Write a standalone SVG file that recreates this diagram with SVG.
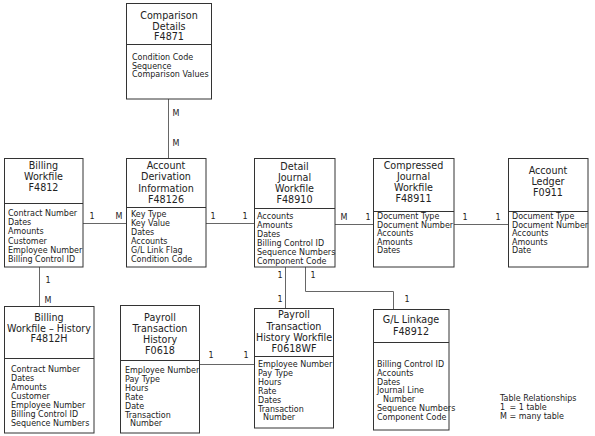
<svg xmlns="http://www.w3.org/2000/svg" width="595" height="436" viewBox="0 0 595 436">
<style>
.box{fill:#fff;stroke:#333;stroke-width:1}
.sep{stroke:#333;stroke-width:1}
.t{font-family:"DejaVu Sans",sans-serif;font-size:9.6px;text-anchor:middle;fill:#222}
.f{font-family:"DejaVu Sans",sans-serif;font-size:8px;fill:#222}
.conn{stroke:#666;stroke-width:1;fill:none}
.lbl{font-family:"DejaVu Sans",sans-serif;font-size:8px;text-anchor:middle;fill:#222}
</style>
<rect width="595" height="436" fill="#fff"/>

<g id="connectors">
<path class="conn" d="M168.5 99V158"/>
<path class="conn" d="M83 223.5H126"/>
<path class="conn" d="M206 223.5H254"/>
<path class="conn" d="M335 224.5H373"/>
<path class="conn" d="M454 224.5H508"/>
<path class="conn" d="M39.5 267V306"/>
<path class="conn" d="M285.5 267V308"/>
<path class="conn" d="M305.5 267V291.5H393.5V309"/>
<path class="conn" d="M199.5 364.5H254"/>
<text class="lbl" x="176" y="116">M</text>
<text class="lbl" x="176" y="146">M</text>
<text class="lbl" x="92" y="219">1</text>
<text class="lbl" x="119" y="219">M</text>
<text class="lbl" x="213" y="219">1</text>
<text class="lbl" x="245" y="219">1</text>
<text class="lbl" x="344" y="220">M</text>
<text class="lbl" x="368" y="220">1</text>
<text class="lbl" x="465" y="220">1</text>
<text class="lbl" x="498" y="220">1</text>
<text class="lbl" x="48" y="283">1</text>
<text class="lbl" x="48" y="303">M</text>
<text class="lbl" x="280" y="278">1</text>
<text class="lbl" x="280" y="302">1</text>
<text class="lbl" x="313" y="278">1</text>
<text class="lbl" x="407" y="302">1</text>
<text class="lbl" x="211" y="358">1</text>
<text class="lbl" x="246" y="358">1</text>
</g>

<g id="comparison-details">
<rect class="box" x="126.5" y="3.5" width="85" height="95.5"/>
<line class="sep" x1="126.5" y1="44.5" x2="211.5" y2="44.5"/>
<text class="t" x="169" y="18.5">Comparison</text>
<text class="t" x="169" y="29.5">Details</text>
<text class="t" x="169" y="39.5">F4871</text>
<text class="f" x="132" y="60">Condition Code</text>
<text class="f" x="132" y="68.7">Sequence</text>
<text class="f" x="132" y="77.4">Comparison Values</text>
</g>

<g id="billing-workfile">
<rect class="box" x="4.5" y="158.5" width="78.5" height="108.5"/>
<line class="sep" x1="4.5" y1="203.5" x2="83" y2="203.5"/>
<text class="t" x="43.5" y="168.5">Billing</text>
<text class="t" x="43.5" y="179.5">Workfile</text>
<text class="t" x="43.5" y="190.5">F4812</text>
<text class="f" x="8" y="216">Contract Number</text>
<text class="f" x="8" y="225.2">Dates</text>
<text class="f" x="8" y="234.4">Amounts</text>
<text class="f" x="8" y="243.6">Customer</text>
<text class="f" x="8" y="252.8">Employee Number</text>
<text class="f" x="8" y="262">Billing Control ID</text>
</g>

<g id="account-derivation">
<rect class="box" x="126.5" y="158.5" width="79.5" height="108.5"/>
<line class="sep" x1="126.5" y1="207.5" x2="206" y2="207.5"/>
<text class="t" x="166" y="168.5">Account</text>
<text class="t" x="166" y="180">Derivation</text>
<text class="t" x="166" y="191.5">Information</text>
<text class="t" x="166" y="203">F48126</text>
<text class="f" x="131" y="217">Key Type</text>
<text class="f" x="131" y="226">Key Value</text>
<text class="f" x="131" y="235">Dates</text>
<text class="f" x="131" y="244">Accounts</text>
<text class="f" x="131" y="253">G/L Link Flag</text>
<text class="f" x="131" y="262">Condition Code</text>
</g>

<g id="detail-journal">
<rect class="box" x="254.5" y="158.5" width="80.5" height="108.5"/>
<line class="sep" x1="254.5" y1="208.5" x2="335" y2="208.5"/>
<text class="t" x="294.5" y="169.5">Detail</text>
<text class="t" x="294.5" y="180.5">Journal</text>
<text class="t" x="294.5" y="191.5">Workfile</text>
<text class="t" x="294.5" y="202.5">F48910</text>
<text class="f" x="257" y="219">Accounts</text>
<text class="f" x="257" y="228">Amounts</text>
<text class="f" x="257" y="237">Dates</text>
<text class="f" x="257" y="246">Billing Control ID</text>
<text class="f" x="257" y="255">Sequence Numbers</text>
<text class="f" x="257" y="264">Component Code</text>
</g>

<g id="compressed-journal">
<rect class="box" x="373.5" y="158.5" width="80.5" height="108.5"/>
<line class="sep" x1="373.5" y1="211.5" x2="454" y2="211.5"/>
<text class="t" x="413.5" y="168.5">Compressed</text>
<text class="t" x="413.5" y="179.5">Journal</text>
<text class="t" x="413.5" y="190.5">Workfile</text>
<text class="t" x="413.5" y="202">F48911</text>
<text class="f" x="377" y="219">Document Type</text>
<text class="f" x="377" y="227.5">Document Number</text>
<text class="f" x="377" y="236">Accounts</text>
<text class="f" x="377" y="244.5">Amounts</text>
<text class="f" x="377" y="253">Dates</text>
</g>

<g id="account-ledger">
<rect class="box" x="508.5" y="158.5" width="79.5" height="108.5"/>
<line class="sep" x1="508.5" y1="211.5" x2="588" y2="211.5"/>
<text class="t" x="548" y="173.5">Account</text>
<text class="t" x="548" y="184.5">Ledger</text>
<text class="t" x="548" y="195.5">F0911</text>
<text class="f" x="512" y="219">Document Type</text>
<text class="f" x="512" y="227.5">Document Number</text>
<text class="f" x="512" y="236">Accounts</text>
<text class="f" x="512" y="244.5">Amounts</text>
<text class="f" x="512" y="253">Date</text>
</g>

<g id="billing-workfile-history">
<rect class="box" x="4.5" y="306.5" width="89.5" height="126.5"/>
<line class="sep" x1="4.5" y1="358.5" x2="94" y2="358.5"/>
<text class="t" x="49" y="320.5">Billing</text>
<text class="t" x="49" y="331.5">Workfile – History</text>
<text class="t" x="49" y="341.5">F4812H</text>
<text class="f" x="11" y="372">Contract Number</text>
<text class="f" x="11" y="381">Dates</text>
<text class="f" x="11" y="390">Amounts</text>
<text class="f" x="11" y="399">Customer</text>
<text class="f" x="11" y="408">Employee Number</text>
<text class="f" x="11" y="417">Billing Control ID</text>
<text class="f" x="11" y="426">Sequence Numbers</text>
</g>

<g id="payroll-transaction-history">
<rect class="box" x="120.5" y="305.5" width="79" height="127.5"/>
<line class="sep" x1="120.5" y1="360.5" x2="199.5" y2="360.5"/>
<text class="t" x="160" y="320.5">Payroll</text>
<text class="t" x="160" y="331.5">Transaction</text>
<text class="t" x="160" y="342.5">History</text>
<text class="t" x="160" y="353.5">F0618</text>
<text class="f" x="125" y="373">Employee Number</text>
<text class="f" x="125" y="381.9">Pay Type</text>
<text class="f" x="125" y="390.8">Hours</text>
<text class="f" x="125" y="399.7">Rate</text>
<text class="f" x="125" y="408.6">Date</text>
<text class="f" x="125" y="417.5">Transaction</text>
<text class="f" x="130" y="426.4">Number</text>
</g>

<g id="payroll-transaction-history-workfile">
<rect class="box" x="254.5" y="308.5" width="79" height="119.5"/>
<line class="sep" x1="254.5" y1="356.5" x2="333.5" y2="356.5"/>
<text class="t" x="294" y="318">Payroll</text>
<text class="t" x="294" y="329.5">Transaction</text>
<text class="t" x="294" y="341">History Workfile</text>
<text class="t" x="294" y="352.2">F0618WF</text>
<text class="f" x="258" y="367">Employee Number</text>
<text class="f" x="258" y="375.9">Pay Type</text>
<text class="f" x="258" y="384.8">Hours</text>
<text class="f" x="258" y="393.7">Rate</text>
<text class="f" x="258" y="402.6">Dates</text>
<text class="f" x="258" y="411.5">Transaction</text>
<text class="f" x="263" y="420.4">Number</text>
</g>

<g id="gl-linkage">
<rect class="box" x="373.5" y="309.5" width="75.5" height="120.5"/>
<line class="sep" x1="373.5" y1="342.5" x2="449" y2="342.5"/>
<text class="t" x="411" y="322.5">G/L Linkage</text>
<text class="t" x="411" y="334.5">F48912</text>
<text class="f" x="377" y="367">Billing Control ID</text>
<text class="f" x="377" y="375.8">Accounts</text>
<text class="f" x="377" y="384.6">Dates</text>
<text class="f" x="377" y="393.4">Journal Line</text>
<text class="f" x="383" y="402.2">Number</text>
<text class="f" x="377" y="411">Sequence Numbers</text>
<text class="f" x="377" y="419.8">Component Code</text>
</g>

<g id="legend">
<text class="f" x="500" y="401">Table Relationships</text>
<text class="f" y="410"><tspan x="500">1</tspan><tspan x="509.5">= 1 table</tspan></text>
<text class="f" x="500" y="419">M = many table</text>
</g>
</svg>
